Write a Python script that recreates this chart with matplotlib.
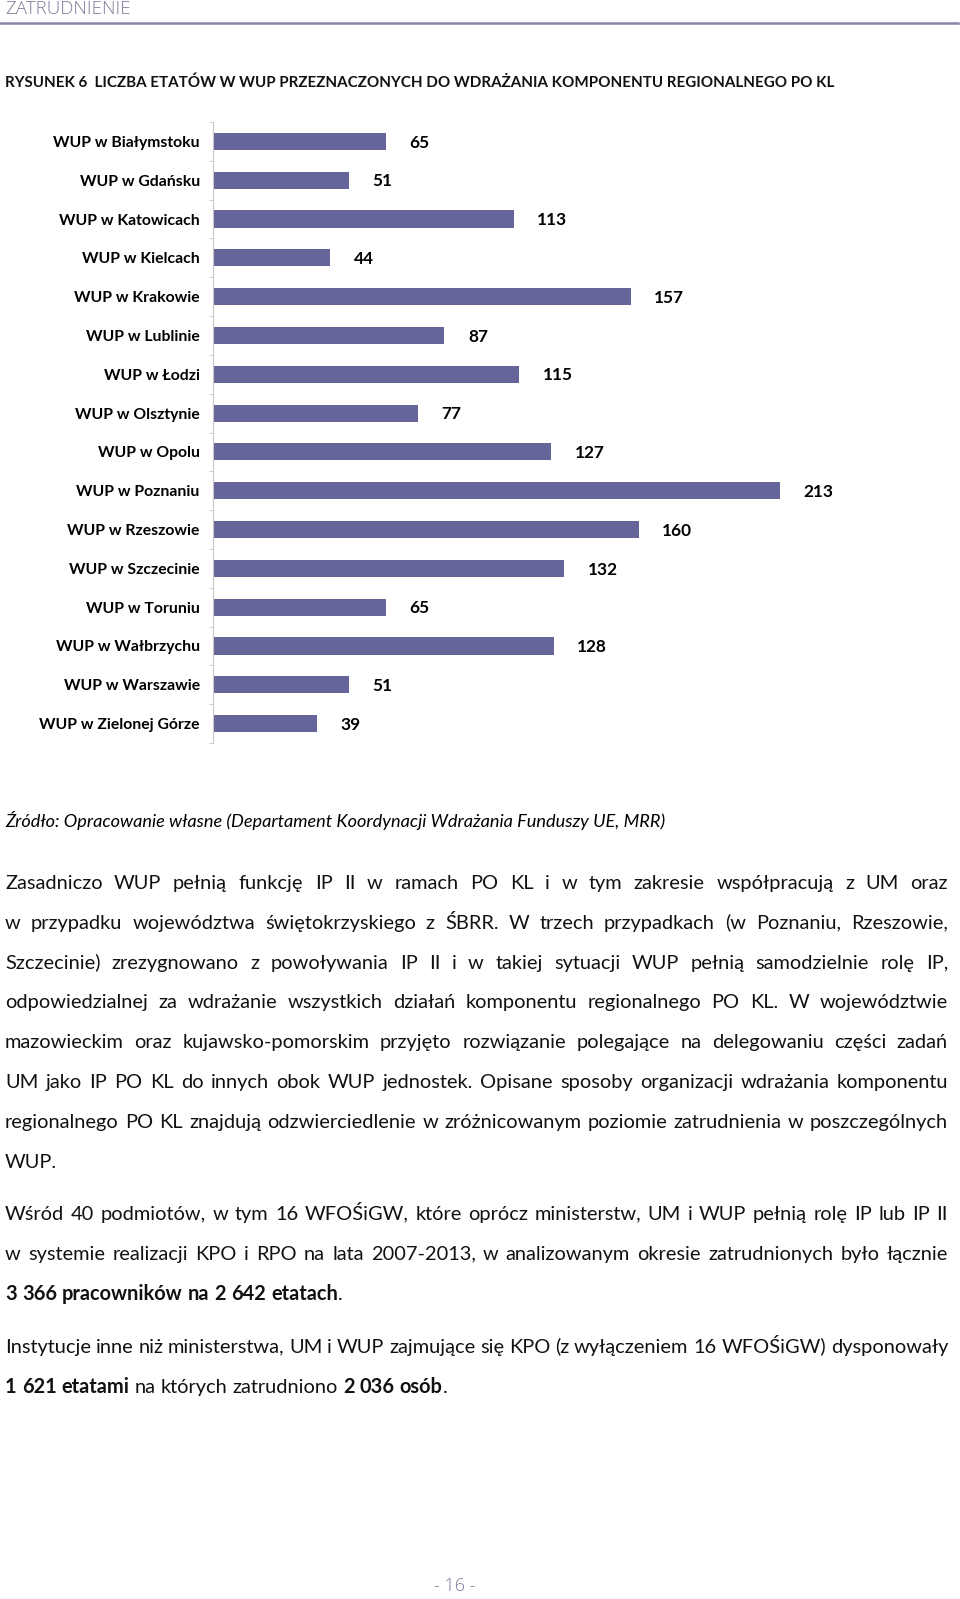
import math
import matplotlib
matplotlib.use("Agg")
import matplotlib.pyplot as plt
from matplotlib.font_manager import FontProperties
from matplotlib.backends.backend_agg import get_hinting_flag

# ---- data ----
offices = ["WUP w Białymstoku", "WUP w Gdańsku", "WUP w Katowicach", "WUP w Kielcach",
           "WUP w Krakowie", "WUP w Lublinie", "WUP w Łodzi", "WUP w Olsztynie",
           "WUP w Opolu", "WUP w Poznaniu", "WUP w Rzeszowie", "WUP w Szczecinie",
           "WUP w Toruniu", "WUP w Wałbrzychu", "WUP w Warszawie", "WUP w Zielonej Górze"]
etaty = [65, 51, 113, 44, 157, 87, 115, 77, 127, 213, 160, 132, 65, 128, 51, 39]

header = "ZATRUDNIENIE"
title = "RYSUNEK 6  LICZBA ETATÓW W WUP PRZEZNACZONYCH DO WDRAŻANIA KOMPONENTU REGIONALNEGO PO KL"
source = "Źródło: Opracowanie własne (Departament Koordynacji Wdrażania Funduszy UE, MRR)"

para1 = [
    [("Zasadniczo WUP pełnią funkcję IP II w ramach PO KL i w tym zakresie współpracują z UM oraz", False)],
    [("w przypadku województwa świętokrzyskiego z ŚBRR. W trzech przypadkach (w Poznaniu, Rzeszowie,", False)],
    [("Szczecinie) zrezygnowano z powoływania IP II i w takiej sytuacji WUP pełnią samodzielnie rolę IP,", False)],
    [("odpowiedzialnej za wdrażanie wszystkich działań komponentu regionalnego PO KL. W województwie", False)],
    [("mazowieckim oraz kujawsko-pomorskim przyjęto rozwiązanie polegające na delegowaniu części zadań", False)],
    [("UM jako IP PO KL do innych obok WUP jednostek. Opisane sposoby organizacji wdrażania komponentu", False)],
    [("regionalnego PO KL znajdują odzwierciedlenie w zróżnicowanym poziomie zatrudnienia w poszczególnych", False)],
    [("WUP.", False)],
]
para2 = [
    [("Wśród 40 podmiotów, w tym 16 WFOŚiGW, które oprócz ministerstw, UM i WUP pełnią rolę IP lub IP II", False)],
    [("w systemie realizacji KPO i RPO na lata 2007-2013, w analizowanym okresie zatrudnionych było łącznie", False)],
    [("3 366 pracowników na 2 642 etatach", True), (".", False)],
]
para3 = [
    [("Instytucje inne niż ministerstwa, UM i WUP zajmujące się KPO (z wyłączeniem 16 WFOŚiGW) dysponowały", False)],
    [("1 621 etatami", True), (" na których zatrudniono ", False), ("2 036 osób", True), (".", False)],
]

W, H = 960, 1599
FONT = ["Lato", "DejaVu Sans"]
plt.rcParams["font.family"] = FONT

fig = plt.figure(figsize=(W / 100, H / 100), dpi=100)
fig.patch.set_facecolor("white")
renderer = fig.canvas.get_renderer()


def fx(x):
    return x / W


def fy(y):
    return 1 - y / H


# header + rule
fig.text(fx(5), fy(9), header, fontsize=13.5, color="#7b7b9b", va="center", ha="left",
         family=["Open Sans", "DejaVu Sans"], fontweight="light")
fig.add_artist(plt.Line2D([0, fx(958)], [fy(23), fy(23)], color="#8585a5", lw=1.8,
                          transform=fig.transFigure))

fig.text(fx(5), fy(83), title, fontsize=10.9, fontweight="bold", va="center", ha="left",
         color="#111111")

# ---- chart ----
ax = fig.add_axes([fx(213), fy(743), 745 / W, 621 / H])
ypos = list(range(len(offices)))
ax.barh(ypos, etaty, height=0.44, color="#65659a")
ax.set_xlim(0, 280)
ax.set_ylim(len(offices) - 0.5, -0.5)
for sp in ["top", "right", "bottom"]:
    ax.spines[sp].set_visible(False)
ax.spines["left"].set_color("#c8c8c8")
ax.set_xticks([])
ax.set_yticks(ypos)
ax.set_yticklabels(offices, fontsize=11.3, fontweight="bold")
ax.set_yticks([i - 0.5 for i in range(len(offices) + 1)], minor=True)
ax.tick_params(axis="y", which="major", length=0, pad=9.5)
ax.tick_params(axis="y", which="minor", length=3, color="#c8c8c8")
for i, v in enumerate(etaty):
    ax.annotate(str(v), (v, i + 0.03), xytext=(17, 0), textcoords="offset points",
                ha="left", va="center", fontsize=12.4, fontweight="bold")

fig.text(fx(5), fy(821), source, fontsize=13.05, style="italic", va="center", ha="left")

# ---- justified paragraphs ----
LEFT, RIGHT = 5, 948
PSIZE = 14.4
props = {False: FontProperties(family=FONT, weight="normal", size=PSIZE),
         True: FontProperties(family=FONT, weight="bold", size=PSIZE)}


def width(txt, bold):
    t = fig.text(0, 0, txt, fontproperties=props[bold])
    w = t.get_window_extent(renderer).width
    t.remove()
    return w


def baseline_err(s, bold):
    # agg rounds each word's bitmap on its own, so baselines can jump by a pixel
    try:
        font = renderer._prepare_font(props[bold])
        font.set_text(s, 0, flags=get_hinting_flag())
        d = font.get_descent() / 64.0
        ymax = (font.get_width_height()[1] - font.get_descent()) / 64.0
        return round(d) - (math.floor(ymax + d) - math.floor(ymax))
    except Exception:
        return 0


space_w = width("a a", False) - width("aa", False)


def draw_line(segs, y, justify):
    words = []
    glue = False
    for text, bold in segs:
        parts = text.split(" ")
        for k, p in enumerate(parts):
            if k > 0:
                glue = False
            if p == "":
                continue
            if glue and words:
                words[-1].append((p, bold))
            else:
                words.append([(p, bold)])
            glue = True
    wws = [sum(width(p, b) for p, b in wd) for wd in words]
    if justify and len(words) > 1:
        gap = (RIGHT - LEFT - sum(wws)) / (len(words) - 1)
    else:
        gap = space_w
    x = LEFT
    for wd, ww in zip(words, wws):
        xx = x
        for p, b in wd:
            yy = y - baseline_err(p, b)
            fig.text(fx(xx), fy(yy), p, fontproperties=props[b],
                     va="baseline", ha="left", color="#111111")
            xx += width(p, b)
        x += ww + gap


def draw_para(lines, y0, step=39.8):
    for k, segs in enumerate(lines):
        draw_line(segs, round(y0 + k * step), justify=(k < len(lines) - 1))


draw_para(para1, 889)
draw_para(para2, 1220)
draw_para(para3, 1353)

fig.text(fx(455), fy(1586), "- 16 -", fontsize=13, color="#7b7b9b", ha="center", va="center",
         family=["Open Sans", "DejaVu Sans"], fontweight="light")

fig.savefig("out.png", dpi=100, facecolor="white")
